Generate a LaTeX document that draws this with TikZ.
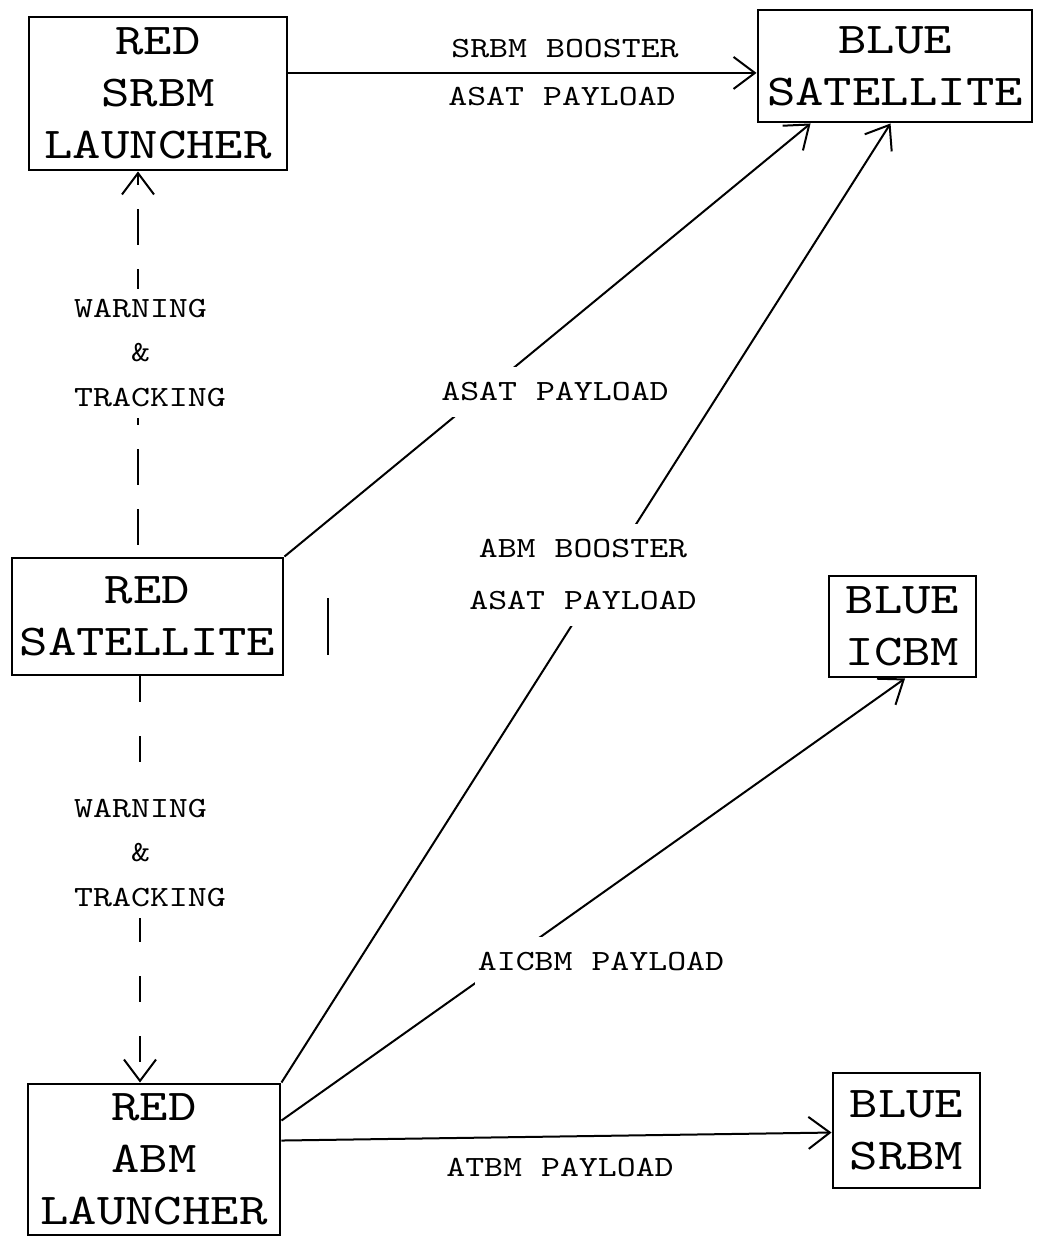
\documentclass[tikz,border=0pt]{standalone}
\usepackage{fontspec}
\newfontfamily\tw{lmmono10-regular.otf}[FakeStretch=1.23]
\usetikzlibrary{arrows.meta,calc}
\tikzset{
  box/.style={draw, line width=2.2pt, align=center, inner sep=0pt,
    font={\tw\fontsize{33pt}{38.8pt}\selectfont}},
  con/.style={line width=1.5pt, -{Straight Barb[length=16pt,width=24pt]}},
  dashA/.style={dash pattern=on 27pt off 18pt, dash phase=36pt},
  dashB/.style={dash pattern=on 19pt off 26pt},
  plbl/.style={fill=white, inner xsep=2pt, inner ysep=12pt, align=center,
    font={\tw\fontsize{22pt}{39pt}\selectfont}},
  lblplain/.style={inner sep=0pt, align=center,
    font={\tw\fontsize{22pt}{39pt}\selectfont}},
  wlbl/.style={fill=white, inner xsep=2pt, inner ysep=8pt, align=left,
    font={\tw\fontsize{22pt}{33.4pt}\selectfont}},
}
\begin{document}
\begin{tikzpicture}[x=0.75pt,y=-0.75pt]
\useasboundingbox (0,0) rectangle (1037,1237);

% boxes
\node[box, minimum width=193.5pt, minimum height=114.75pt] (SL) at (158,93.5) {RED\\SRBM\\LAUNCHER};
\node[box, minimum width=205.5pt, minimum height=84pt] (BS) at (895,66) {BLUE\\SATELLITE};
\node[box, minimum width=203.25pt, minimum height=87.75pt] (RS) at (147.5,616.5) {RED\\SATELLITE};
\node[box, minimum width=110.25pt, minimum height=75.75pt] (BI) at (902.5,626.5) {BLUE\\ICBM};
\node[box, minimum width=189pt, minimum height=113.25pt] (AL) at (154,1159.5) {RED\\ABM\\LAUNCHER};
\node[box, minimum width=110.25pt, minimum height=86.25pt] (BSR) at (906.5,1130.5) {BLUE\\SRBM};

\coordinate (w1) at (138,0);
\coordinate (w2) at (140,0);

% connectors
\draw[con] ([yshift=15.4pt]SL.east) -- ([yshift=15.4pt]SL.east -| BS.west);
\draw[con, dashA] (RS.north -| w1) -- (SL.south -| w1);
\draw[con, dashB] (RS.south -| w2) -- (AL.north -| w2);
\draw[con] (RS.north east) -- ($(BS.south west)+(54,0)$);
\draw[con] (AL.north east) -- ($(BS.south west)+(134,0)$);
\draw[con] ($(AL.north east)+(0,38)$) -- ($(BI.south)+(2.5,0)$);
\draw[con] ($(AL.north east)+(0,58)$) -- ($(BSR.north west)+(0,61)$);

% labels
\node[lblplain] (t1) at (565,49) {SRBM BOOSTER};
\node[lblplain] (t2) at (562,96.5) {ASAT PAYLOAD};
\node[wlbl] (t3) at (150,353) {WARNING\\\phantom{WAR}\&\\TRACKING};
\node[wlbl] (t4) at (150,853) {WARNING\\\phantom{WAR}\&\\TRACKING};
\node[plbl] (t5) at (555,392) {ASAT PAYLOAD};
\node[plbl] (t6) at (583,575) {ABM BOOSTER\\ASAT PAYLOAD};
\node[plbl] (t7) at (601,962) {AICBM PAYLOAD};
\node[lblplain] (t8) at (560,1168) {ATBM PAYLOAD};

% stray mark
\draw[line width=0.8pt] (328,598) -- (328,655);
\end{tikzpicture}
\end{document}
